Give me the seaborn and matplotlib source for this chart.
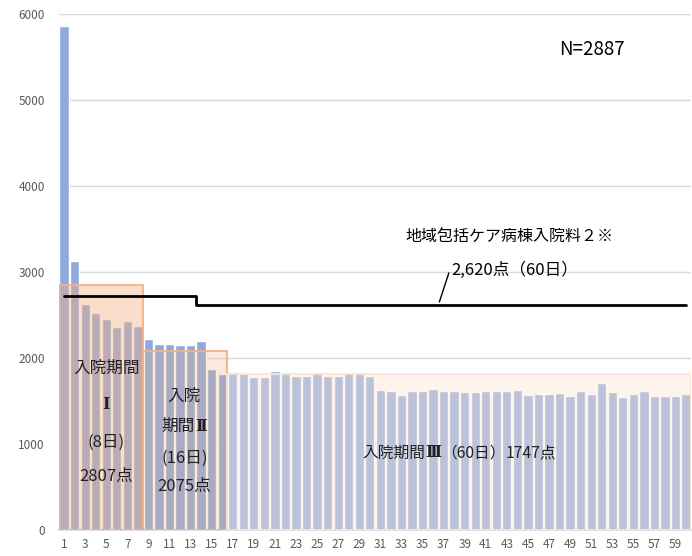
import numpy as np
import pandas as pd
import seaborn as sns
import matplotlib
matplotlib.use("Agg")
import matplotlib.pyplot as plt
from matplotlib.patches import Rectangle
from matplotlib.offsetbox import TextArea, HPacker, AnnotationBbox

# ---- data ----
days = list(range(1, 61))
points = [5860, 3130, 2625, 2526, 2456, 2357, 2427, 2373,
          2221, 2163, 2163, 2147, 2147, 2192, 1871, 1817,
          1830, 1826, 1783, 1783, 1849, 1837, 1795, 1795, 1837, 1795,
          1795, 1826, 1837, 1795, 1628, 1612, 1574, 1612, 1612, 1640,
          1612, 1612, 1601, 1601, 1612, 1612, 1612, 1624, 1570, 1585,
          1585, 1597, 1554, 1612, 1585, 1709, 1601, 1543, 1585, 1612,
          1558, 1558, 1558, 1585]
fee_level = [2720] * 13 + [2620] * 47          # 地域包括ケア病棟入院料2
period_start = [1, 9, 17]
period_end = [8, 16, 60]
period_top = [2850, 2075, 1810]
period_numerals = ["Ⅰ", "Ⅱ", "Ⅲ"]
period_days = ["(8日)", "(16日)", "（60日）"]
period_points = ["2807点", "2075点", "1747点"]
xtick_labels = [str(d) for d in days[::2]]
yticks = [0, 1000, 2000, 3000, 4000, 5000, 6000]

sns.set_theme(style="white")
plt.rcParams['font.family'] = ['Noto Sans CJK JP', 'DejaVu Sans']

fig, ax = plt.subplots(figsize=(6.92, 5.56), dpi=100)
fig.subplots_adjust(left=0.085, right=0.999, bottom=0.047, top=0.975)

df = pd.DataFrame({"day": [str(d) for d in days], "pts": points})
sns.barplot(data=df, x="day", y="pts", color="#8FAADC", saturation=1,
            width=0.88, ax=ax, zorder=2)

# overlay period boxes
styles = [
    dict(fc=(0.957, 0.694, 0.514, 0.42), ec="#F4B183", lw=1.3),
    dict(fc=(0.957, 0.694, 0.514, 0.27), ec="#F4B183", lw=1.3),
    dict(fc=(0.984, 0.898, 0.839, 0.42), ec="#FBE5D6", lw=1.3),
]
for s, e, t, st in zip(period_start, period_end, period_top, styles):
    x0 = s - 1 - 0.5
    x1 = e - 1 + 0.5
    ax.add_patch(Rectangle((x0, 0), x1 - x0, t, facecolor=st["fc"],
                           edgecolor=st["ec"], lw=st["lw"], zorder=3))

# step line
ax.plot(np.arange(len(days)), fee_level, drawstyle="steps-mid",
        color="black", lw=2, zorder=4)

CJK = dict(color="#222222", fontsize=12, family=['Noto Sans CJK JP', 'DejaVu Sans'])
NUM = dict(color="#222222", fontsize=11.5, family=['DejaVu Serif'], weight="bold")


def packed(parts, xy, size=None):
    kids = []
    for s, props in parts:
        p = dict(props)
        if size is not None and p is not NUM:
            p["fontsize"] = size
        kids.append(TextArea(s, textprops=p))
    box = HPacker(children=kids, pad=0, sep=0, align="baseline")
    ab = AnnotationBbox(box, xy, xycoords="data", frameon=False,
                        box_alignment=(0.5, 0.5), pad=0, zorder=6)
    ax.add_artist(ab)


# period I label
packed([("入院期間", CJK)], (4.0, 1884))
packed([(period_numerals[0], NUM)], (4.0, 1453))
packed([(period_days[0], CJK)], (4.0, 1023))
packed([(period_points[0], CJK)], (4.0, 616))
# period II label
packed([("入院", CJK)], (11.4, 1558))
packed([("期間", CJK), (period_numerals[1], NUM)], (11.4, 1198))
packed([(period_days[1], CJK)], (11.4, 837))
packed([(period_points[1], CJK)], (11.4, 500))
# period III label
p3 = dict(CJK, fontsize=11.3)
packed([("入院期間", p3), (period_numerals[2], NUM), (period_days[2], p3),
        (period_points[2], p3)], (37.5, 895))

ax.text(50.1, 5581, "N=2887", ha="center", va="center", color="black",
        fontsize=13.5, zorder=5)
ax.text(42.3, 3407, "地域包括ケア病棟入院料２※", ha="center", va="center",
        color="black", fontsize=11.5, zorder=5)
ax.text(36.7, 3023, "2,620点（60日）", ha="left", va="center",
        color="black", fontsize=12, zorder=5)
ax.plot([35.6, 36.5], [2651, 2988], color="black", lw=1, zorder=5)

ax.set_ylim(0, 6000)
ax.set_xlim(-0.5, 59.5)
ax.set_yticks(yticks)
ax.set_xticks(np.arange(0, 60, 2))
ax.set_xticklabels(xtick_labels)
ax.set_xlabel("")
ax.set_ylabel("")
ax.tick_params(axis="both", length=0, labelsize=8.5, labelcolor="#595959")
ax.tick_params(axis="y", pad=10)
ax.tick_params(axis="x", pad=6)
ax.grid(axis="y", color="#D9D9D9", lw=1, zorder=0)
ax.set_axisbelow(True)
for sp in ["top", "right", "left"]:
    ax.spines[sp].set_visible(False)
ax.spines["bottom"].set_color("#D9D9D9")

fig.savefig("out.png", dpi=100)
